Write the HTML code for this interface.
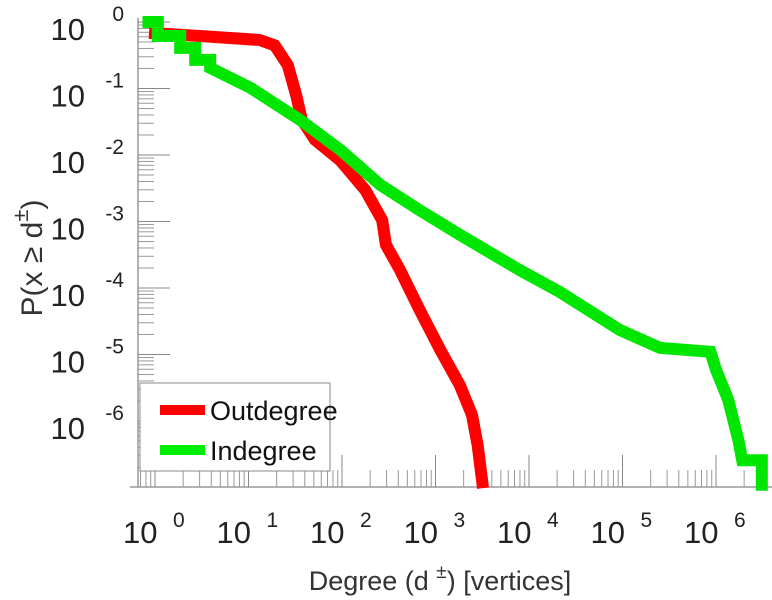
<!DOCTYPE html>
<html><head><meta charset="utf-8"><style>
body{margin:0;background:#fff}
svg{display:block;font-family:"Liberation Sans",sans-serif}
</style></head><body>
<svg id="c" width="772" height="600" viewBox="0 0 772 600">
<g id="axes"></g>
<g id="series"></g>
<g id="legend">
<rect x="140" y="383" width="190" height="88" fill="#fff" stroke="#888" stroke-width="1"/>
<line x1="160" y1="410" x2="205" y2="410" stroke="#f00" stroke-width="10"/>
<text x="210" y="420" font-size="27" fill="#111">Outdegree</text>
<line x1="160" y1="450" x2="205" y2="450" stroke="#0e0" stroke-width="10"/>
<text x="210" y="460" font-size="27" fill="#111">Indegree</text>
</g>
<text x="440" y="590" font-size="27" fill="#333" text-anchor="middle">Degree (d <tspan dy="-12" font-size="19">±</tspan><tspan dy="12">) [vertices]</tspan></text>
<text transform="translate(42,258) rotate(-90)" font-size="30" fill="#333" text-anchor="middle">P(x ≥ d<tspan dy="-14" font-size="22">±</tspan><tspan dy="14">)</tspan></text>
</svg>
<script>
const xDecades=[0,1,2,3,4,5,6];
const yDecades=[0,-1,-2,-3,-4,-5,-6];
const outLogD=[0,0.48,1.12,1.28,1.42,1.51,1.57,1.71,1.98,2.25,2.43,2.47,2.62,2.83,3.05,3.26,3.39,3.45,3.50];
const outLogP=[-0.17,-0.21,-0.27,-0.35,-0.65,-1.10,-1.47,-1.77,-2.08,-2.53,-2.98,-3.35,-3.73,-4.33,-4.93,-5.46,-5.91,-6.36,-6.92];
const inLogD=[-0.07,0.03,0.03,0.27,0.27,0.43,0.43,0.59,0.59,1.02,1.55,1.98,2.41,2.83,3.26,3.90,4.33,4.97,5.40,5.94,6.0,6.13,6.24,6.28,6.49,6.49];
const inLogP=[0,0,-0.21,-0.21,-0.39,-0.39,-0.57,-0.57,-0.69,-0.99,-1.47,-1.92,-2.45,-2.83,-3.2,-3.73,-4.06,-4.63,-4.9,-4.96,-5.23,-5.68,-6.29,-6.59,-6.59,-6.96];

const NS='http://www.w3.org/2000/svg';
const X=v=>155+93.5*v;
const Y=v=>22-66.5*v;
function mk(tag,attrs,parent){const e=document.createElementNS(NS,tag);for(const k in attrs)e.setAttribute(k,attrs[k]);parent.appendChild(e);return e;}
const axes=document.getElementById('axes');
const yl=mk('line',{x1:138,y1:18,x2:138,y2:487,stroke:'#999','stroke-width':1.5},axes);


const xl=mk('line',{x1:130,y1:487,x2:772,y2:487,stroke:'#999','stroke-width':1.5},axes);


yDecades.forEach(d=>{
  const y=Y(d);
  const t=mk('line',{x1:138,y1:y,x2:170,y2:y,stroke:'#888','stroke-width':1},axes);
  
  
  for(let m=2;m<10;m++){
    const yy=Y(d-1+Math.log10(m));
    const mt=mk('line',{x1:138,y1:yy,x2:154,y2:yy,stroke:'#999','stroke-width':1},axes);
    
    
  }
  const tx=mk('text',{x:85,y:y+18,'font-size':31,fill:'#222','text-anchor':'end'},axes);
  tx.textContent='10';
  
  
  const sp=mk('text',{x:124,y:y-1,'font-size':21,fill:'#222','text-anchor':'end'},axes);
  sp.textContent=String(d);
  
  
});
for(let d=-1;d<=7;d++){
  const x=X(d);
  if(x>138&&x<770){
    const t=mk('line',{x1:x,y1:487,x2:x,y2:455,stroke:'#888','stroke-width':1},axes);
    
    
  }
  for(let m=2;m<10;m++){
    const xx=X(d+Math.log10(m));
    if(xx>770||xx<138)continue;
    const mt=mk('line',{x1:xx,y1:487,x2:xx,y2:470,stroke:'#999','stroke-width':1},axes);
    
    
  }
}
xDecades.forEach(d=>{
  const x=X(d);
  const tx=mk('text',{x:x-32,y:543,'font-size':31,fill:'#222'},axes);
  tx.textContent='10';
  
  
  const sp=mk('text',{x:x+18,y:527,'font-size':21,fill:'#222'},axes);
  sp.textContent=String(d);
  
  
});
const ser=document.getElementById('series');
function line(xs,ys,color,name){
  const pts=xs.map((v,i)=>X(v).toFixed(1)+','+Y(ys[i]).toFixed(1)).join(' ');
  const p=mk('polyline',{points:pts,fill:'none',stroke:color,'stroke-width':12,'stroke-linejoin':'miter','stroke-linecap':'square'},ser);
  
  
}
line(outLogD,outLogP,'#ff0000','outdegree-line');
line(inLogD,inLogP,'#00e600','indegree-line');
</script>
</body></html>
